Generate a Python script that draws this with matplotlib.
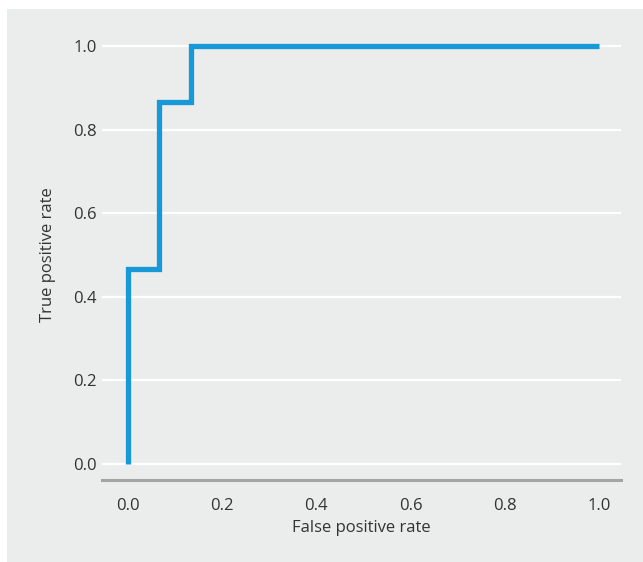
import matplotlib
matplotlib.use('Agg')
import matplotlib.pyplot as plt
from matplotlib.patches import Rectangle

fpr = [0.0, 0.0, 0.0667, 0.0667, 0.133, 0.133, 1.0]
tpr = [0.0, 0.467, 0.467, 0.867, 0.867, 1.0, 1.0]
ticks = [0.0, 0.2, 0.4, 0.6, 0.8, 1.0]
tick_labels = ['0.0', '0.2', '0.4', '0.6', '0.8', '1.0']

plt.rcParams['font.family'] = ['Open Sans', 'DejaVu Sans']
bg = '#ebecec'
txt = '#333333'

fig = plt.figure(figsize=(6.43, 5.62), dpi=100)
fig.patches.append(Rectangle((7/643, 0), 1, 1 - 9/562, transform=fig.transFigure,
                             facecolor=bg, edgecolor='none', zorder=-10))

ax = fig.add_axes([102/643, 82/562, 519/643, (480 - 29.3)/562])
ax.set_facecolor(bg)
ax.plot(fpr, tpr, color='#1799d8', lw=3.8, solid_joinstyle='miter',
        solid_capstyle='butt', zorder=3)

ax.set_xlim(-0.055, 1.047)
ax.set_ylim(-0.038, 1.04)
ax.set_xticks(ticks)
ax.set_xticklabels(tick_labels)
ax.set_yticks(ticks)
ax.set_yticklabels(tick_labels)
ax.tick_params(length=0, labelsize=12, colors=txt)
ax.tick_params(axis='x', pad=13)
ax.tick_params(axis='y', pad=4)
ax.grid(axis='y', color='white', lw=1.6)
ax.set_axisbelow(True)
for s in ['top', 'right', 'left']:
    ax.spines[s].set_visible(False)
ax.spines['bottom'].set_color('#a3a5a5')
ax.spines['bottom'].set_linewidth(2.2)

ax.set_xlabel('False positive rate', fontsize=12, color=txt, labelpad=4)
ax.set_ylabel('True positive rate', fontsize=12, color=txt, labelpad=12)

fig.savefig('out.png', dpi=100)
